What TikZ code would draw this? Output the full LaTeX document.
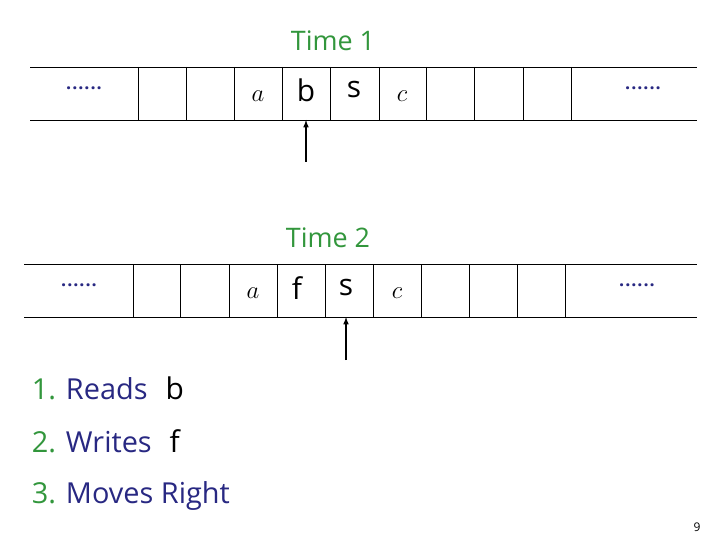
\documentclass[tikz,border=0pt]{standalone}
\usepackage{fontspec}
\setmainfont{Open Sans}
\definecolor{tgreen}{RGB}{50,150,60}
\definecolor{tblue}{RGB}{40,40,130}
\newcommand{\mydots}{.\kern1pt.\kern1pt.\kern1pt.\kern1pt.\kern1pt.}
\begin{document}
\begin{tikzpicture}[x=1bp,y=-1bp,
  line width=0.9pt,
  sym/.style={font=\fontsize{30}{30}\selectfont},
  ital/.style={font=\fontsize{26}{26}\selectfont},
  dots/.style={text=tblue,font=\fontsize{18}{18}\selectfont\bfseries},
  lab/.style={anchor=west,font=\fontsize{29}{29}\selectfont},
  tm/.style={text=tgreen,font=\fontsize{27}{27}\selectfont}]
\useasboundingbox (0,0) rectangle (720,540);
% tape 1
\draw (30,67) -- (697,67) (30,120) -- (697,120);
\foreach \x in {138,186,234,282,330,379,426,474,523,571} \draw (\x,67) -- (\x,120);
\node[dots] (d1) at (84,88) {\mydots};
\node[dots] (d2) at (643,88) {\mydots};
\node[ital] (a1) at (258,96) {$a$};
\node[sym] (b1) at (306,90) {b};
\node[sym] (s1) at (354,90) {s};
\node[ital] (c1) at (402,96) {$c$};
\node[tm] (t1) at (333,41) {Time 1};
\coordinate (h1) at (306,162);
\coordinate (h1t) at (306,120);
\draw[-latex,line width=1.5pt] (h1) -- (h1t);
% tape 2
\draw (24,264) -- (697,264) (24,317) -- (697,317);
\foreach \x in {133,180,229,277,325,373,421,469,517,565} \draw (\x,264) -- (\x,317);
\node[dots] (d3) at (79,285) {\mydots};
\node[dots] (d4) at (637,285) {\mydots};
\node[ital] (a2) at (253,293) {$a$};
\node[sym] (f2) at (297,288) {f};
\node[sym] (s2) at (346,288) {s};
\node[ital] (c2) at (397,293) {$c$};
\node[tm] (t2) at (328,238) {Time 2};
\coordinate (h2) at (346,360);
\coordinate (h2t) at (346,317);
\draw[-latex,line width=1.5pt] (h2) -- (h2t);
% list
\node[lab] (l1) at (28,388) {\textcolor{tgreen}{1.} \textcolor{tblue}{Reads}\hspace{18pt}\fontsize{30}{30}\selectfont b};
\node[lab] (l2) at (28,441) {\textcolor{tgreen}{2.} \textcolor{tblue}{Writes}\hspace{18pt}\fontsize{30}{30}\selectfont f};
\node[lab] (l3) at (28,496) {\textcolor{tgreen}{3.} \textcolor{tblue}{Moves Right}};
\node[font=\fontsize{12}{12}\selectfont] (pg) at (697,527) {9};
\end{tikzpicture}
\end{document}
